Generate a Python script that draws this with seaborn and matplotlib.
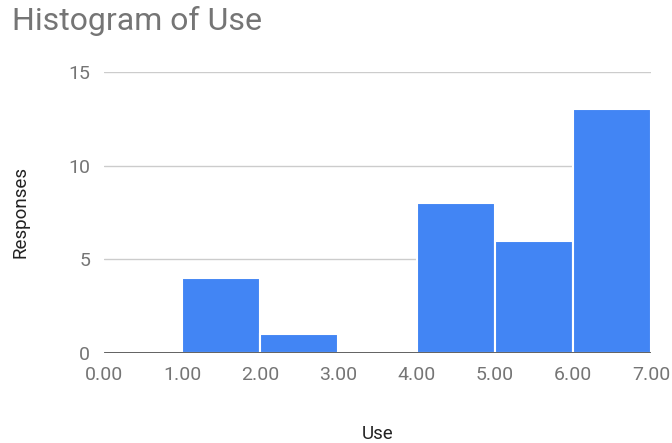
import matplotlib
matplotlib.use("Agg")
import matplotlib.pyplot as plt
import seaborn as sns
import numpy as np

# Histogram bins and response counts per bin
bin_edges = [0, 1, 2, 3, 4, 5, 6, 7]
bin_centers = [0.5, 1.5, 2.5, 3.5, 4.5, 5.5, 6.5]
responses = [0, 4, 1, 0, 8, 6, 13]
x_tick_labels = ["0.00", "1.00", "2.00", "3.00", "4.00", "5.00", "6.00", "7.00"]
y_ticks = [0, 5, 10, 15]

sns.set_theme(style="white")
plt.rcParams["font.family"] = ["Roboto", "DejaVu Sans"]

fig = plt.figure(figsize=(6.72, 4.43), dpi=100)
ax = fig.add_axes([104 / 672, 90 / 443, 547 / 672, 281 / 443])

sns.histplot(x=bin_centers, weights=responses, bins=bin_edges, ax=ax,
             color="#4285F4", alpha=1, edgecolor="white", linewidth=1.5)

ax.set_xlim(0, 7)
ax.set_ylim(0, 15)
ax.set_xticks(bin_edges)
ax.set_xticklabels(x_tick_labels)
ax.set_yticks(y_ticks)

ax.yaxis.grid(True, color="#cccccc", linewidth=1)
ax.set_axisbelow(True)
for s in ax.spines.values():
    s.set_visible(False)
ax.axhline(0, color="#333333", linewidth=1.8, zorder=3)

ax.tick_params(axis="both", length=0, labelsize=14, labelcolor="#757575")
ax.tick_params(axis="x", pad=9)
ax.tick_params(axis="y", pad=10)

ax.set_xlabel("Use", fontsize=13.5, color="#222222", labelpad=30)
ax.set_ylabel("Responses", fontsize=13.5, color="#222222", labelpad=28)

fig.text(12 / 672, 1 - 6 / 443, "Histogram of Use", fontsize=23,
         color="#757575", ha="left", va="top")

fig.savefig("out.png", dpi=100)
